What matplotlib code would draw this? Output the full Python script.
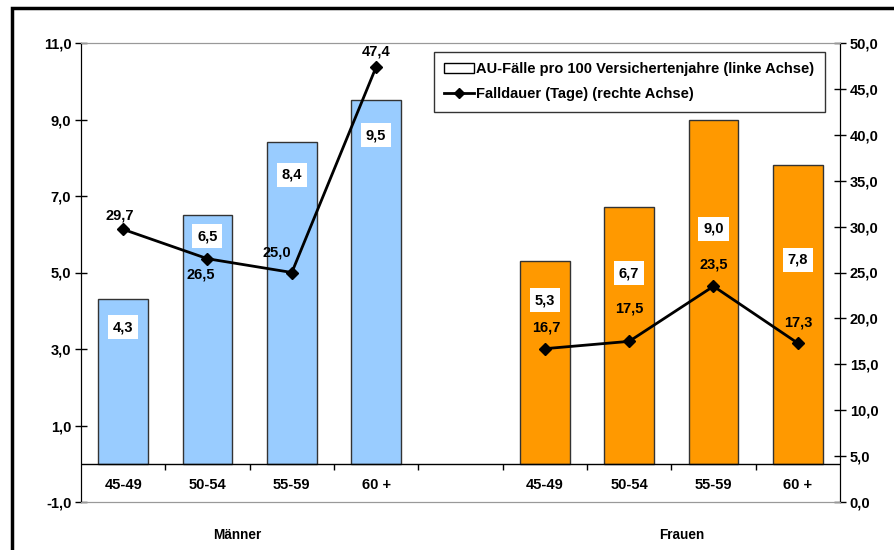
import numpy as np
import matplotlib
matplotlib.use("Agg")
import matplotlib.pyplot as plt
from matplotlib.patches import Patch, Rectangle
from matplotlib.lines import Line2D

plt.rcParams["font.family"] = ["Liberation Sans", "DejaVu Sans"]
plt.rcParams["font.weight"] = "bold"

# Daten
altersgruppen = ["45-49", "50-54", "55-59", "60 +"]
gruppen = ["Männer", "Frauen"]
faelle_maenner = [4.3, 6.5, 8.4, 9.5]
faelle_frauen = [5.3, 6.7, 9.0, 7.8]
dauer_maenner = [29.7, 26.5, 25.0, 47.4]
dauer_frauen = [16.7, 17.5, 23.5, 17.3]

# Lage der Balkenbeschriftungen (linke Achse) und Versatz der Linienbeschriftungen (Pixel)
pos_bar_m = [3.57, 5.95, 7.55, 8.59]
pos_bar_f = [4.28, 4.98, 6.14, 5.33]
off_line_m = [(-3, 14), (-7, -16), (-15, 20), (0, 15)]
off_line_f = [(1, 21), (0, 33), (0, 22), (0, 21)]

blau = "#99CCFF"
orange = "#FF9900"
fs = 10.5

x_m = np.arange(4)
x_f = np.arange(4) + 5
n_slots = 9

fig = plt.figure(figsize=(8.95, 5.5), dpi=100)
ax = fig.add_axes([81 / 895, 48 / 550, 759 / 895, 459 / 550])
ax2 = ax.twinx()

bw = 0.59
ax.bar(x_m, faelle_maenner, width=bw, color=blau, edgecolor="#333333", linewidth=1, zorder=2)
ax.bar(x_f, faelle_frauen, width=bw, color=orange, edgecolor="#333333", linewidth=1, zorder=2)

for xi, v, yp in zip(list(x_m) + list(x_f), faelle_maenner + faelle_frauen, pos_bar_m + pos_bar_f):
    ax.text(xi, yp, f"{v:.1f}".replace(".", ","), ha="center", va="center", fontsize=fs,
            fontweight="bold", zorder=5,
            bbox=dict(facecolor="white", edgecolor="none", pad=3.5))

ax.set_xlim(-0.5, n_slots - 0.5)
ax.set_ylim(-1, 11)
ax.set_yticks([-1, 1, 3, 5, 7, 9, 11])
ax.set_yticklabels([f"{t:.1f}".replace(".", ",") for t in [-1, 1, 3, 5, 7, 9, 11]])
ax.set_xticks([])

ax.axhline(0, color="black", lw=1, zorder=3)
ax.vlines(np.arange(0.5, n_slots - 0.5), -0.16, 0, color="black", lw=1, zorder=3)

for xi, lab in zip(list(x_m) + list(x_f), altersgruppen + altersgruppen):
    ax.text(xi, -0.55, lab, ha="center", va="center", fontsize=fs, fontweight="bold")

ax.text(0.2055, -0.072, gruppen[0], transform=ax.transAxes, ha="center", va="center",
        fontsize=9.8, fontweight="bold")
ax.text(0.792, -0.072, gruppen[1], transform=ax.transAxes, ha="center", va="center",
        fontsize=9.8, fontweight="bold")

# Linie (rechte Achse)
ax2.plot(x_m, dauer_maenner, color="black", lw=2, marker="D", markersize=6, zorder=4)
ax2.plot(x_f, dauer_frauen, color="black", lw=2, marker="D", markersize=6, zorder=4)
for xi, v, off in zip(list(x_m) + list(x_f), dauer_maenner + dauer_frauen, off_line_m + off_line_f):
    ax2.annotate(f"{v:.1f}".replace(".", ","), (xi, v), xytext=off, textcoords="offset pixels",
                 ha="center", va="center", fontsize=fs, fontweight="bold")
ax2.set_ylim(0, 50)
ax2.set_yticks(np.arange(0, 55, 5))
ax2.set_yticklabels([f"{t:.1f}".replace(".", ",") for t in np.arange(0, 55, 5)])

for a in (ax, ax2):
    a.spines["top"].set_color("#999999")
    a.spines["bottom"].set_color("#999999")
    a.spines["left"].set_color("black")
    a.spines["right"].set_color("black")
    a.tick_params(axis="y", direction="inout", length=8, width=1, labelsize=fs, pad=3)
    for t in a.get_yticklabels():
        t.set_fontweight("bold")

handles = [Patch(facecolor="white", edgecolor="black", linewidth=1),
           Line2D([0], [0], color="black", lw=2, marker="D", markersize=5)]
labels = ["AU-Fälle pro 100 Versichertenjahre (linke Achse)", "Falldauer (Tage) (rechte Achse)"]
leg = ax2.legend(handles, labels, loc="upper right", bbox_to_anchor=(0.980, 0.980),
                 borderaxespad=0, frameon=True, fancybox=False, edgecolor="black", fontsize=fs,
                 handlelength=2.0, handletextpad=0.2, borderpad=0.7, labelspacing=0.75)
leg.get_frame().set_linewidth(1)
for t in leg.get_texts():
    t.set_fontweight("bold")

# äußerer Rahmen
fig.patches.append(Rectangle((12 / 895, -0.1), 1.2, 0.1 + 1 - 8 / 550, transform=fig.transFigure,
                             fill=False, edgecolor="black", linewidth=2.5))

fig.savefig("out.png", dpi=100)
